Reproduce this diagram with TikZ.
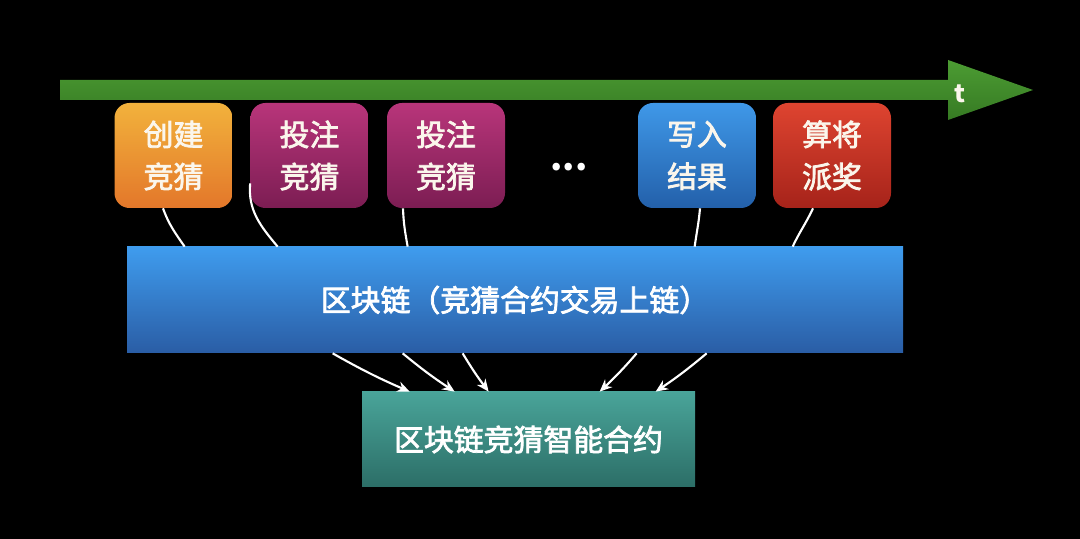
\documentclass[tikz,border=0pt]{standalone}
\usepackage{fontspec}
\setmainfont{Noto Sans CJK SC}
\newfontfamily\medfont{Noto Sans CJK SC}[FakeBold=2.5]
\usetikzlibrary{arrows.meta,calc}

\definecolor{orangeT}{HTML}{F2B23C}
\definecolor{orangeB}{HTML}{E3772A}
\definecolor{plumT}{HTML}{B8357A}
\definecolor{plumB}{HTML}{7C1D53}
\definecolor{blueT}{HTML}{3F98E8}
\definecolor{blueB}{HTML}{2360AA}
\definecolor{redT}{HTML}{DE4430}
\definecolor{redB}{HTML}{A6231A}
\definecolor{chainT}{HTML}{3F9CEE}
\definecolor{chainB}{HTML}{2A5DA5}
\definecolor{tealT}{HTML}{49A499}
\definecolor{tealB}{HTML}{2C6E67}
\definecolor{timeT}{HTML}{4C9C33}
\definecolor{timeB}{HTML}{367A23}
\definecolor{cream}{HTML}{FBF6EC}

\begin{document}
\begin{tikzpicture}[
        every node/.style={text=white, align=center, font=\fontsize{17}{24}\medfont},
        stepbox/.style={minimum width=2.36cm, minimum height=2.1cm, rounded corners=0.3cm, text=cream},
        ln/.style={-, white, line width=1.2pt},
        ar/.style={-{Stealth[length=7pt, width=6pt]}, white, line width=1.2pt},
    ]

    \fill[black] (0,0) rectangle (21.6,10.78);

    % time axis
    \shade[top color=timeT, bottom color=timeB] (1.2,8.78) -- (18.96,8.78) -- (18.96,8.38) -- (20.66,8.98)
        -- (18.96,9.58) -- (18.96,9.18) -- (1.2,9.18) -- cycle;
    \node[font=\fontsize{14}{18}\bfseries, text=cream](t) at (19.2,8.9) {t};

    \node[stepbox, top color=orangeT, bottom color=orangeB](create) at (3.47,7.67) {创建\\竞猜};
    \node[stepbox, top color=plumT, bottom color=plumB](bet1) at (6.19,7.67) {投注\\竞猜};
    \node[stepbox, top color=plumT, bottom color=plumB](bet2) at (8.92,7.67) {投注\\竞猜};
    \node[font=\fontsize{20}{24}\bfseries](dots) at (11.38,7.44) {...};
    \node[stepbox, top color=blueT, bottom color=blueB](write) at (13.94,7.67) {写入\\结果};
    \node[stepbox, top color=redT, bottom color=redB](pay) at (16.64,7.67) {算将\\派奖};

    \node[minimum width=15.52cm, minimum height=2.12cm, top color=chainT, bottom color=chainB](chain) at (10.30,4.78) {区块链（竞猜合约交易上链）};
    \node[minimum width=6.66cm, minimum height=1.9cm, top color=tealT, bottom color=tealB](contract) at (10.57,1.99) {区块链竞猜智能合约};

    \draw[ln] ($(create.south)+(-0.21,0)$) to[out=-70, in=125] ($(chain.north west)+(1.16,0)$);
    \draw[ln] ($(bet1.south west)+(0,0.5)$) to[out=-95, in=130] ($(chain.north west)+(3.02,0)$);
    \draw[ln] ($(bet2.south)+(-0.86,0)$) to[out=-88, in=100] ($(chain.north west)+(5.62,0)$);
    \draw[ln] ($(write.south)+(0.06,0)$) to[out=-95, in=82] ($(chain.north west)+(11.36,0)$);
    \draw[ln] ($(pay.south)+(-0.38,0)$) to[out=-115, in=65] ($(chain.north west)+(13.32,0)$);

    \draw[ar] ($(chain.south west)+(4.12,0)$) to[bend right=3] ($(contract.north west)+(0.96,0)$);
    \draw[ar] ($(chain.south west)+(5.52,0)$) to[bend right=3] ($(contract.north west)+(1.86,0)$);
    \draw[ar] ($(chain.south west)+(6.72,0)$) to[bend right=3] ($(contract.north west)+(2.54,0)$);
    \draw[ar] ($(chain.south west)+(10.20,0)$) to[bend left=3] ($(contract.north west)+(4.76,0)$);
    \draw[ar] ($(chain.south west)+(11.60,0)$) to[bend left=3] ($(contract.north west)+(5.88,0)$);

\end{tikzpicture}
\end{document}
